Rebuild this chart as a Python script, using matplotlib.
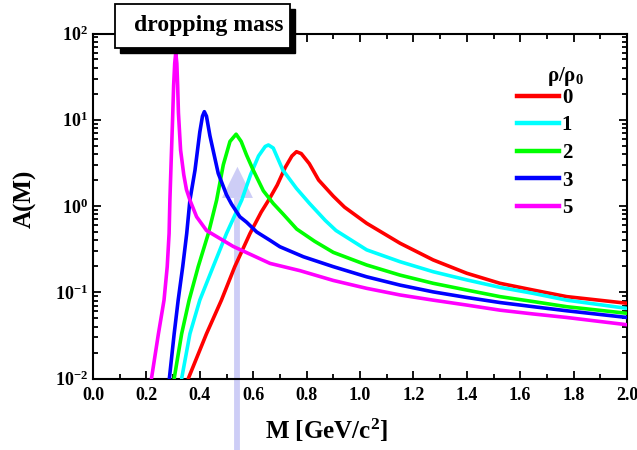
import numpy as np
import matplotlib.pyplot as plt
from matplotlib.patches import Polygon, Rectangle
from matplotlib.lines import Line2D
from matplotlib.ticker import MultipleLocator, LogLocator, NullFormatter

plt.rcParams['font.family'] = 'Liberation Serif'
plt.rcParams['font.weight'] = 'bold'
plt.rcParams['mathtext.fontset'] = 'custom'
plt.rcParams['mathtext.rm'] = 'Liberation Serif:bold'
plt.rcParams['mathtext.bf'] = 'Liberation Serif:bold'
plt.rcParams['mathtext.it'] = 'Liberation Serif:bold'

# spectral functions A(M), one per density rho/rho0
m_0 = [0.357, 0.425, 0.481, 0.531, 0.588, 0.63, 0.66, 0.69, 0.72, 0.745, 0.762, 0.78,
       0.81, 0.845, 0.90, 0.942, 1.025, 1.15, 1.274, 1.40, 1.524, 1.649, 1.774, 2.0]
a_0 = [0.01, 0.033, 0.081, 0.198, 0.48, 0.85, 1.2, 1.75, 2.8, 3.8, 4.26, 4.05,
       3.1, 2.0, 1.3, 0.97, 0.63, 0.37, 0.237, 0.166, 0.127, 0.106, 0.089, 0.0745]

m_1 = [0.332, 0.363, 0.40, 0.45, 0.50, 0.557, 0.59, 0.62, 0.645, 0.657, 0.675, 0.711,
       0.762, 0.811, 0.87, 0.91, 1.025, 1.15, 1.274, 1.40, 1.524, 1.649, 1.774, 2.0]
a_1 = [0.01, 0.033, 0.081, 0.198, 0.48, 1.17, 2.3, 3.8, 4.9, 5.1, 4.7, 2.61,
       1.6, 1.07, 0.68, 0.52, 0.31, 0.226, 0.173, 0.139, 0.114, 0.097, 0.081, 0.065]

m_2 = [0.304, 0.332, 0.360, 0.394, 0.432, 0.463, 0.488, 0.513, 0.536, 0.555, 0.575, 0.600,
       0.638, 0.675, 0.713, 0.763, 0.83, 0.90, 1.025, 1.15, 1.274, 1.40, 1.524, 1.649,
       1.774, 2.0]
a_2 = [0.01, 0.033, 0.081, 0.198, 0.48, 1.17, 3.0, 5.6, 6.8, 5.6, 3.9, 2.61,
       1.5, 1.07, 0.80, 0.54, 0.39, 0.29, 0.207, 0.158, 0.127, 0.106, 0.089, 0.078,
       0.068, 0.057]

m_3 = [0.286, 0.304, 0.319, 0.336, 0.351, 0.363, 0.382, 0.40, 0.410, 0.417, 0.425, 0.438,
       0.469, 0.50, 0.519, 0.55, 0.575, 0.613, 0.663, 0.70, 0.788, 0.90, 1.025, 1.15,
       1.274, 1.40, 1.524, 1.649, 1.774, 2.0]
a_3 = [0.01, 0.033, 0.081, 0.198, 0.48, 1.17, 2.6, 7.2, 11.0, 12.4, 11.0, 6.5,
       2.39, 1.35, 1.05, 0.75, 0.65, 0.50, 0.40, 0.337, 0.258, 0.198, 0.151, 0.121,
       0.101, 0.087, 0.076, 0.068, 0.061, 0.051]

m_5 = [0.219, 0.245, 0.266, 0.278, 0.285, 0.288, 0.293, 0.298, 0.302, 0.306, 0.310, 0.314,
       0.317, 0.320, 0.328, 0.340, 0.350, 0.363, 0.388, 0.425, 0.525, 0.663, 0.775, 0.90,
       1.025, 1.15, 1.274, 1.40, 1.524, 1.649, 1.774, 2.0]
a_5 = [0.01, 0.033, 0.081, 0.198, 0.48, 1.17, 3.5, 10, 25, 45, 60, 45,
       25, 12, 4.46, 2.3, 1.55, 1.17, 0.75, 0.52, 0.34, 0.216, 0.178, 0.137,
       0.111, 0.093, 0.081, 0.071, 0.062, 0.056, 0.051, 0.042]

labels = ['0', '1', '2', '3', '5']
colors = ['#ff0000', '#00ffff', '#00ff00', '#0000ff', '#ff00ff']
masses = [m_0, m_1, m_2, m_3, m_5]
values = [a_0, a_1, a_2, a_3, a_5]

x_ticks = [0.0, 0.2, 0.4, 0.6, 0.8, 1.0, 1.2, 1.4, 1.6, 1.8, 2.0]
y_ticks = [1e-2, 1e-1, 1e0, 1e1, 1e2]
y_ticklabels = [r'10$^{-2}$', r'10$^{-1}$', r'10$^{0}$', r'10$^{1}$', r'10$^{2}$']

# arrow marking the mass position
arrow_x = 0.541
arrow_tip = 2.85
arrow_base = 1.24
arrow_half = 0.058
arrow_bottom = 0.00145

W, H = 637, 450
fig = plt.figure(figsize=(W / 100, H / 100), dpi=100)
ax = fig.add_axes([93 / W, 1 - 378.5 / H, 534 / W, 345 / H])

arrow_col = '#cdcdf6'
ax.plot([arrow_x, arrow_x], [arrow_bottom, arrow_base], color=arrow_col, lw=4.2,
        solid_capstyle='butt', clip_on=False, zorder=1)
ax.add_patch(Polygon([[arrow_x - arrow_half, arrow_base], [arrow_x + arrow_half, arrow_base],
                      [arrow_x, arrow_tip]], closed=True, color=arrow_col, lw=0, zorder=1))

for m, a, c in zip(masses, values, colors):
    ax.plot(m, a, color=c, lw=2.6, zorder=3, solid_joinstyle='round',
            solid_capstyle='round')

ax.set_yscale('log')
ax.set_xticks(x_ticks)
ax.set_xticklabels(['%.1f' % v for v in x_ticks])
ax.xaxis.set_minor_locator(MultipleLocator(0.1))
ax.set_yticks(y_ticks)
ax.set_yticklabels(y_ticklabels)
ax.yaxis.set_minor_locator(LogLocator(base=10, subs=np.arange(2, 10), numticks=10))
ax.yaxis.set_minor_formatter(NullFormatter())
ax.set_xlim(0, 2.0)
ax.set_ylim(1e-2, 1e2)

ax.tick_params(which='both', direction='in', top=True, right=True, labelsize=13, width=1.3)
ax.tick_params(axis='x', which='major', pad=6)
ax.tick_params(which='major', length=6)
ax.tick_params(which='minor', length=3.5)
for s in ax.spines.values():
    s.set_linewidth(1.5)

ax.set_xlabel(r'M [GeV/c$^{2}$]', fontsize=18, fontweight='bold')
ax.xaxis.set_label_coords((326 - 93) / 534, -0.112)
ax.set_ylabel('A(M)', fontsize=18, fontweight='bold')
ax.yaxis.set_label_coords(-0.106, 0.52)

# legend
handles = [Line2D([], [], color=c, lw=3.2) for c in colors]
leg = fig.legend(handles, labels, loc='upper left', bbox_to_anchor=(517 / W, 1 - 88 / H),
                 frameon=False, fontsize=15, handlelength=2.0, handletextpad=0.15,
                 labelspacing=0.36, borderpad=0, borderaxespad=0)
fig.text(566 / W, 1 - 77 / H, r'ρ/ρ$_{0}$', fontsize=15, fontweight='bold',
         ha='center', va='center')

# title box with shadow
fig.patches.append(Rectangle((120 / W, 1 - 53 / H), 175 / W, 44 / H, transform=fig.transFigure,
                             facecolor='black', edgecolor='black', zorder=5))
fig.patches.append(Rectangle((115 / W, 1 - 48 / H), 175 / W, 44 / H, transform=fig.transFigure,
                             facecolor='white', edgecolor='black', lw=1.3, zorder=6))
fig.text(209 / W, 1 - 25 / H, 'dropping mass', fontsize=17, fontweight='bold',
         ha='center', va='center', zorder=7)

fig.savefig('out.png', dpi=100)
